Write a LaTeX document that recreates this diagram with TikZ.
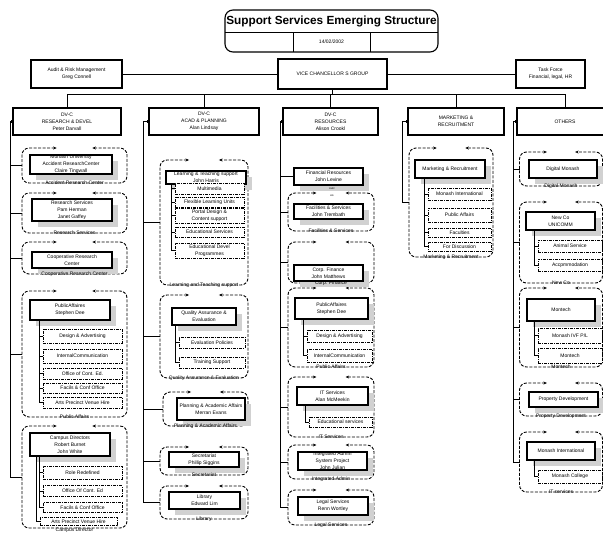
\documentclass[tikz,border=0pt]{standalone}
\usepackage{fontspec}
\setmainfont{Liberation Sans}
\usetikzlibrary{positioning,calc,shadows,arrows.meta}
\begin{document}
\begin{tikzpicture}[x=1pt,y=-1pt]\tikzset{
  sz/.style 2 args = {minimum width=#1pt, minimum height=#2pt},
  base/.style = {font=\fontsize{5}{6.8}\selectfont, align=center, inner sep=0.5pt},
  topbox/.style = {base, draw, line width=1.1pt, fill=white},
  headbox/.style = {base, draw, line width=1.1pt, fill=white, minimum height=27pt},
  unitbox/.style = {base, draw, line width=1.3pt, fill=white, drop shadow={shadow xshift=6pt, shadow yshift=-6pt, fill=black!18, opacity=1}},
  subbox/.style = {base, draw, line width=0.9pt, dash pattern=on 3pt off 1pt on 1pt off 1pt, fill=white},
  grp/.style = {inner sep=0pt, outer sep=0pt},
  grpline/.style = {line width=0.9pt, dash pattern=on 3pt off 1.5pt, rounded corners=7pt, {Stealth[length=3.5pt,width=3pt]}-{Stealth[length=3.5pt,width=3pt]}},
  grpcap/.style = {base, inner sep=0pt},
  conn/.style = {line width=0.9pt}
}
	\useasboundingbox (0,0) rectangle (603,539);

	% title
	\node[font=\bfseries\fontsize{11.8}{14}\selectfont] (ttl) at (331.5,21) {Support Services Emerging Structure};
	\node[base] (date) at (331.5,42) {14/02/2002};
	\draw[line width=1.1pt, rounded corners=8pt] (225,10) rectangle (438,52);
	\draw[conn] (225,32) -- (438,32) (293,32) -- (293,52) (370,32) -- (370,52);

	% top level
	\node[topbox, sz={91}{28}] (audit) at (76.5,74) {Audit \& Risk Management\\Greg Connell};
	\node[topbox, sz={109}{30}] (vc) at (332.5,74) {VICE CHANCELLOR S GROUP};
	\node[topbox, sz={69}{28}] (task) at (550.5,74) {Task Force\\Financial, legal, HR};

	\node[headbox, minimum width=108pt] (h1) at (67,121.5) {DV-C\\RESEARCH \& DEVEL\\Peter Darvall};
	\node[headbox, minimum width=110pt] (h2) at (204,121.5) {DV-C\\ACAD \& PLANNING\\Alan Lindsay};
	\node[headbox, minimum width=95pt] (h3) at (330.5,121.5) {DV-C\\RESOURCES\\Alison Crookl};
	\node[headbox, minimum width=96pt] (h4) at (456,121.5) {MARKETING \&\\RECRUITMENT};
	\node[headbox, minimum width=96pt] (h5) at (565,121.5) {OTHERS};

	% group outlines
	\node[grp, sz={105}{35}] (g11) at (74.5,165.5) {};
	\node[grp, sz={105}{40}] (g12) at (74.5,213) {};
	\node[grp, sz={105}{32}] (g13) at (74.5,258) {};
	\node[grp, sz={105}{126}] (g14) at (74.5,354) {};
	\node[grp, sz={105}{102}] (g15) at (74.5,477) {};
	\node[grp, sz={88}{125}] (g21) at (204,222.5) {};
	\node[grp, sz={88}{83}] (g22) at (204,336.5) {};
	\node[grp, sz={85}{34}] (g23) at (205.5,409) {};
	\node[grp, sz={88}{28}] (g24) at (204,461) {};
	\node[grp, sz={88}{33}] (g25) at (204,502.5) {};
	\node[grp, sz={86}{38}] (g32) at (331,212) {};
	\node[grp, sz={86}{41}] (g33) at (331,262.5) {};
	\node[grp, sz={86}{79}] (g34) at (331,327.5) {};
	\node[grp, sz={86}{60}] (g35) at (331,407) {};
	\node[grp, sz={86}{34}] (g36) at (331,462) {};
	\node[grp, sz={86}{35}] (g37) at (331,507.5) {};
	\node[grp, sz={84}{109}] (g41) at (451,202.5) {};
	\node[grp, sz={83}{34}] (g51) at (561,169) {};
	\node[grp, sz={83}{81}] (g52) at (561,242.5) {};
	\node[grp, sz={83}{79}] (g53) at (561,327.5) {};
	\node[grp, sz={83}{33}] (g54) at (561,399.5) {};
	\node[grp, sz={83}{60}] (g55) at (561,462) {};

	\foreach \g in {g11,g12,g13,g14,g15,g21,g22,g23,g24,g25,g32,g33,g34,g35,g36,g37,g41,g51,g52,g53,g54,g55}
		\draw[grpline] ($(\g.north west)!.33!(\g.north east)$) -- (\g.north west) -- (\g.south west) -- (\g.south east) -- (\g.north east) -- ($(\g.north west)!.67!(\g.north east)$);

	% research & devel
	\node[unitbox, sz={82}{19}] (i11) at (71,164.5) {Monash University\\Accident ResearchCenter\\Claire Tingwall};
	\node[unitbox, sz={80}{22}] (i12) at (72,210) {Research Services\\Pam Herman\\Janet Gaffey};
	\node[unitbox, sz={80}{16}] (i13) at (72,260) {Cooperative Research\\Center};
	\node[unitbox, sz={80}{20}] (i14) at (70,310) {PublicAffaires\\Stephen Dee};
	\node[unitbox, sz={80}{23}] (i15) at (70,444.5) {Campus Directors\\Robert Burnet\\John White};
	\node[subbox, sz={79}{14}] (s141) at (82.5,336) {Design \& Advertising};
	\node[subbox, sz={79}{14}] (s142) at (82.5,356) {InternalCommunication};
	\node[subbox, sz={79}{11}] (s143) at (82.5,373.5) {Office of Cont. Ed.};
	\node[subbox, sz={79}{10}] (s144) at (82.5,388) {Facils \& Conf Office};
	\node[subbox, sz={79}{11}] (s145) at (82.5,402.5) {Arts Precinct Venue Hire};
	\node[subbox, sz={79}{13}] (s151) at (82.5,472.5) {Role Redefined};
	\node[subbox, sz={79}{11}] (s152) at (82.5,491) {Office Of Cont. Ed};
	\node[subbox, sz={79}{10}] (s153) at (82.5,507.5) {Facils \& Conf Office};
	\node[subbox, sz={77}{8.5}] (s154) at (78.5,521.5) {Arts Precinct Venue Hire};

	% acad & planning
	\node[unitbox, sz={80}{13}] (i21) at (206,177.5) {Learning \& Teaching support\\John Harris};
	\node[subbox, sz={69}{11}] (s211) at (209.5,188.5) {Multimedia};
	\node[subbox, sz={69}{10}] (s212) at (209.5,202) {Flexible Learning Units};
	\node[subbox, sz={69}{15}] (s213) at (209.5,215.5) {Portal Design \&\\Content support};
	\node[subbox, sz={69}{10}] (s214) at (209.5,232) {Educational Services};
	\node[subbox, sz={69}{15}] (s215) at (209.5,250.5) {Educational Devel\\Programmes};
	\node[unitbox, sz={64}{17}] (i22) at (204,316.5) {Quality Assurance \&\\Evaluation};
	\node[subbox, sz={66}{11}] (s221) at (212,342.5) {Evaluation Policies};
	\node[subbox, sz={66}{11}] (s222) at (212,362.5) {Training Support};
	\node[unitbox, sz={68}{22}] (i23) at (211,409) {Planning \& Academic Affairs\\Merran Evans};
	\node[unitbox, sz={70}{15}] (i24) at (204,459.5) {Secretariat\\Phillip Siggins};
	\node[unitbox, sz={71}{17}] (i25) at (204.5,500.5) {Library\\Edward Lim};

	% resources
	\node[unitbox, sz={69}{17}] (i31) at (328.5,176.5) {Financial Resources\\John Levine};
	\node[base, font=\fontsize{3}{3.5}\selectfont] (rs1) at (332,189) {ourc};
	\node[base, font=\fontsize{3}{3.5}\selectfont] (rs2) at (332,196) {es};
	\node[unitbox, sz={69}{15}] (i32) at (328.5,211.5) {Facilities \& Services\\John Trembath};
	\node[unitbox, sz={69}{16}] (i33) at (328.5,273) {Corp. Finance\\John Matthews};
	\node[unitbox, sz={73}{21}] (i34) at (331.5,308.5) {PublicAffaires\\Stephen Dee};
	\node[subbox, sz={65}{12}] (s341) at (339.5,336) {Design \& Advertising};
	\node[subbox, sz={65}{13}] (s342) at (339.5,355.5) {InternalCommunication};
	\node[unitbox, sz={71}{18}] (i35) at (332.5,396) {IT Services\\Alan McMeekin};
	\node[subbox, sz={63}{10}] (s351) at (340.5,422) {Educational services};
	\node[unitbox, sz={69}{18}] (i36) at (332.5,461) {Integrated Admin\\System Project\\John Julian};
	\node[unitbox, sz={70}{18}] (i37) at (333,506) {Legal Services\\Renn Wortley};

	% marketing
	\node[unitbox, sz={70}{18}] (i41) at (450,169) {Marketing \& Recruitment};
	\node[subbox, sz={63}{12}] (s411) at (459.5,194) {Monash International};
	\node[subbox, sz={63}{14}] (s412) at (459.5,215) {Public Affairs};
	\node[subbox, sz={63}{9}] (s413) at (459.5,232.5) {Faculties};
	\node[subbox, sz={63}{9}] (s414) at (459.5,246.5) {For Discussion};

	% others
	\node[unitbox, sz={68}{18}] (i51) at (563,169) {Digital Monash};
	\node[unitbox, sz={69}{18}] (i52) at (560.5,221) {New Co\\UNICOMM};
	\node[subbox, sz={64}{12}] (s521) at (570,246) {Animal Service};
	\node[subbox, sz={64}{12}] (s522) at (570,265) {Accpmmodation};
	\node[unitbox, sz={68}{22}] (i53) at (561,310) {Montech};
	\node[subbox, sz={64}{15}] (s531) at (570,335.5) {Monash IVF P/L};
	\node[subbox, sz={64}{15}] (s532) at (570,355.5) {Montech};
	\node[unitbox, sz={69}{15}] (i54) at (563.5,399.5) {Property Development};
	\node[unitbox, sz={68}{18}] (i55) at (561,451) {Monash International};
	\node[subbox, sz={64}{13}] (s551) at (570,476.5) {Monash College};

	% captions
	\foreach \g/\txt in {g11/Accident Research Center, g12/Research Services, g13/Cooperative Research Center, g14/Public Affairs, g21/Learning and Teaching support, g22/Quality Assurance \& Evaluation, g23/Planning \& Academic Affairs, g24/Secretariat, g25/Library, g32/Facilities \& Services, g33/Corp. Finance, g34/Public Affairs, g35/IT Services, g36/Integrated Admin, g37/Legal Services, g41/Marketing \& Recruitment, g51/Digital Monash, g52/New Co, g53/Montech, g54/Property Development, g55/IT services}
		\node[grpcap, below=-2.5pt of \g] (c\g) {\txt};
	\node[grpcap, below=-0.5pt of g15] (cg15) {Campus Director};

	% connectors
	\draw[conn] (audit.east) -- (vc.west);
	\draw[conn] (vc.east) -- (task.west);
	\coordinate (bus) at (332.5,94);
	\draw[conn] (vc.south) -- (bus);
	\draw[conn] (bus -| h1.north) -- (bus -| h5.north);
	\foreach \h in {h1,h2,h3,h4,h5}
		\draw[conn] (bus -| \h.north) -- (\h.north);

	\coordinate (sp1) at (10,121.5);
	\coordinate (sp2) at (143,121.5);
	\coordinate (sp3) at (280,121.5);
	\coordinate (sp4) at (402,121.5);
	\coordinate (sp5) at (513,121.5);
	\draw[conn] (h1.west) -- (sp1) |- (g15.west);
	\draw[conn] (h2.west) -- (sp2) |- (g25.west);
	\draw[conn] (h3.west) -- (sp3) |- (g37.west);
	\draw[conn] (h4.west) -- (sp4) |- (g41.west);
	\draw[conn] (h5.west) -- (sp5) |- (g55.west);
	\foreach \s/\g in {sp1/g11,sp1/g12,sp1/g13,sp1/g14,sp2/g21,sp2/g22,sp2/g23,sp2/g24,sp3/i31,sp3/g32,sp3/g33,sp3/g34,sp3/g35,sp3/g36,sp5/g51,sp5/g52,sp5/g53,sp5/g54}
		\draw[conn] (\s |- \g.west) -- (\g.west);
	\foreach \h in {h1,h2,h3,h4,h5}
		\fill ($(\h.west)+(-1.3,-1.3)$) rectangle ($(\h.west)+(1.3,1.3)$);

	\foreach \u/\s in {i14/s141,i14/s142,i14/s143,i14/s144,i14/s145,i15/s151,i15/s152,i15/s153,i15/s154,i21/s211,i21/s212,i21/s213,i21/s214,i21/s215,i22/s221,i22/s222,i34/s341,i34/s342,i35/s351,i41/s411,i41/s412,i41/s413,i41/s414,i52/s521,i52/s522,i53/s531,i53/s532,i55/s551}
		\draw[conn] ($(\s.west |- \u.south)+(-3,0)$) |- (\s.west);
\end{tikzpicture}
\end{document}
